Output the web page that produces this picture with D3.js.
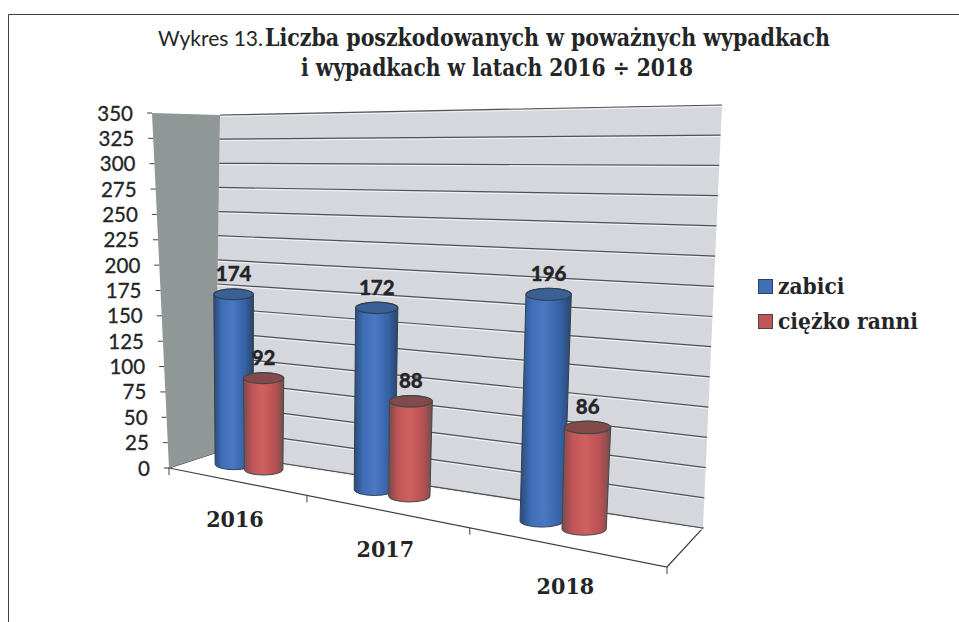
<!DOCTYPE html>
<html>
<head>
<meta charset="utf-8">
<script src="https://cdn.jsdelivr.net/npm/d3@7"></script>
<style>
  body { margin: 0; background: #fff; }
  svg { display: block; }
  .serif { font-family: "DejaVu Serif Condensed", "DejaVu Serif", serif; font-stretch: condensed; font-weight: bold; fill: #232526; }
  .sans { font-family: Lato, "Open Sans", sans-serif; fill: #232526; stroke: #232526; stroke-width: 0.3; }
</style>
</head>
<body>
<div id="chart"></div>
<script>
// Data
var categories = ["2016", "2017", "2018"];
var zabici = [174, 172, 196];
var ranni = [92, 88, 86];
var yTicks = [0, 25, 50, 75, 100, 125, 150, 175, 200, 225, 250, 275, 300, 325, 350];
var legendNames = ["zabici", "ciężko ranni"];

var width = 959;
var height = 622;

var svg = d3.select("#chart").append("svg")
    .attr("width", width)
    .attr("height", height);

// Box corners of the 3D plot on the page, [front/back][left/right][bottom/top]
var box = {
    flb: [169, 468], flt: [152, 113],
    frb: [667, 567], frt: [688, 100],
    blb: [215, 453], blt: [220, 115],
    brb: [703, 528], brt: [722, 105]
};
function mix(a, b, t) { return [a[0] + (b[0] - a[0]) * t, a[1] + (b[1] - a[1]) * t]; }
function project(u, v, t) {
    var bottom = mix(mix(box.flb, box.frb, u), mix(box.blb, box.brb, u), v);
    var top = mix(mix(box.flt, box.frt, u), mix(box.blt, box.brt, u), v);
    return mix(bottom, top, t);
}

// Scales
var yScale = d3.scaleLinear().domain([0, 350]).range([0, 1]);
var barScale = d3.scaleLinear().domain([0, 350]).range([0, 0.975]);
// category slots get wider toward the viewer's right
var uScale = d3.scaleLinear().domain([0, 1, 2, 3]).range([0, 0.277, 0.604, 1]);
var radius = d3.scaleLinear().domain([0, 1]).range([19.5, 24]);
var depth = d3.scaleLinear().domain([0, 1]).range([0.66, 0.48]);

var line = d3.line();
function poly(points) { return line(points) + "Z"; }

// Floor and walls
svg.append("path")
    .attr("d", poly([box.flb, box.frb, box.brb, box.blb]))
    .attr("fill", "#fff")
    .attr("stroke", "#3d4144")
    .attr("stroke-width", 1.2);
svg.append("path")
    .attr("d", poly([box.blb, box.brb, box.brt, box.blt]))
    .attr("fill", "#d6d7dd");
svg.append("path")
    .attr("d", poly([box.flb, box.blb, box.blt, box.flt]))
    .attr("fill", "#8f9797");

// Gridlines on the back wall
yTicks.forEach(function (d) {
    var t = yScale(d);
    svg.append("path")
        .attr("d", line([project(0, 1, t), project(1, 1, t)]))
        .attr("stroke", "#f4f4f6")
        .attr("stroke-width", 1)
        .attr("transform", "translate(0,1.4)");
    svg.append("path")
        .attr("d", line([project(0, 1, t), project(1, 1, t)]))
        .attr("stroke", "#4e5256")
        .attr("stroke-width", 1.2)
        .attr("fill", "none");
});

// Y axis, runs along the front edge of the left wall
yTicks.forEach(function (d) {
    var p = project(0, 0, yScale(d));
    svg.append("line")
        .attr("x1", p[0] - 5).attr("x2", p[0])
        .attr("y1", p[1]).attr("y2", p[1])
        .attr("stroke", "#3d4144");
    svg.append("text")
        .attr("class", "sans")
        .attr("x", p[0] - 19)
        .attr("y", p[1] + 7.5)
        .attr("text-anchor", "end")
        .attr("font-size", 20.5)
        .text(d);
});

// X axis ticks and labels
d3.range(categories.length + 1).forEach(function (i) {
    var p = project(uScale(i), 0, 0);
    svg.append("line")
        .attr("x1", p[0]).attr("x2", p[0])
        .attr("y1", p[1]).attr("y2", p[1] + 7)
        .attr("stroke", "#3d4144");
});
categories.forEach(function (c, i) {
    var p = project(uScale(i + 0.5), 0, 0);
    svg.append("text")
        .attr("class", "serif")
        .attr("x", p[0] - 3)
        .attr("y", p[1] + 45 + (i == 2 ? 2 : 0))
        .attr("text-anchor", "middle")
        .attr("font-size", 23)
        .text(c);
});

// Cylinder gradients
var series = [
    { values: zabici, offset: 0.26, id: "blue", stops: ["#2c4a78", "#3f6fb8", "#4a78c2", "#3560a4", "#2a4468"], cap: "#3a6096", edge: "#2f4250" },
    { values: ranni, offset: 0.48, id: "red", stops: ["#7d4a4a", "#c25557", "#d0605f", "#b65052", "#6f4f4f"], cap: "#84494a", edge: "#3f4a48" }
];
var defs = svg.append("defs");
series.forEach(function (s) {
    var g = defs.append("linearGradient").attr("id", s.id);
    s.stops.forEach(function (col, i) {
        g.append("stop").attr("offset", [0, 0.22, 0.48, 0.8, 1][i]).attr("stop-color", col);
    });
});

// Cylinders, back series first so the red one overlaps the blue
categories.forEach(function (c, i) {
    series.forEach(function (s) {
        var u = uScale(i + s.offset);
        var v = depth(u);
        var t = barScale(s.values[i]);
        var base = project(u, v, 0);
        var top = project(u, v, t);
        var r = radius(u);
        var rb = r * 0.96;
        var ry = r * 0.27;
        svg.append("path")
            .attr("d", "M" + (top[0] - r) + "," + top[1] +
                "L" + (base[0] - rb) + "," + base[1] +
                "A" + rb + "," + ry + " 0 0 0 " + (base[0] + rb) + "," + base[1] +
                "L" + (top[0] + r) + "," + top[1] +
                "A" + r + "," + ry + " 0 0 0 " + (top[0] - r) + "," + top[1] + "Z")
            .attr("fill", "url(#" + s.id + ")")
            .attr("stroke", s.edge)
            .attr("stroke-width", 1);
        svg.append("ellipse")
            .attr("cx", top[0]).attr("cy", top[1])
            .attr("rx", r).attr("ry", ry)
            .attr("fill", s.cap)
            .attr("stroke", s.edge)
            .attr("stroke-width", 1.2);
        svg.append("text")
            .attr("class", "sans")
            .attr("x", top[0])
            .attr("y", top[1] - 13)
            .attr("text-anchor", "middle")
            .attr("font-size", 20.5)
            .attr("font-weight", 900)
            .text(s.values[i]);
    });
});

// Title
var title = svg.append("text").attr("class", "serif").attr("font-size", 24);
title.append("tspan")
    .attr("x", 158).attr("y", 46)
    .style("font-family", "Lato, sans-serif")
    .style("font-weight", "normal")
    .attr("font-size", 21)
    .text("Wykres 13. ");
title.append("tspan")
    .attr("x", 265).attr("y", 46)
    .attr("textLength", 565)
    .attr("lengthAdjust", "spacingAndGlyphs")
    .text("Liczba poszkodowanych w poważnych wypadkach");
svg.append("text")
    .attr("class", "serif")
    .attr("x", 301).attr("y", 76)
    .attr("font-size", 24)
    .attr("textLength", 392)
    .attr("lengthAdjust", "spacingAndGlyphs")
    .text("i wypadkach w latach 2016 ÷ 2018");

// Legend
legendNames.forEach(function (name, i) {
    var y = 294 + i * 35;
    svg.append("rect")
        .attr("x", 758.5).attr("y", y - 14.5)
        .attr("width", 14).attr("height", 14)
        .attr("fill", series[i].stops[1])
        .attr("stroke", series[i].edge);
    svg.append("text")
        .attr("class", "serif")
        .attr("x", 778).attr("y", y)
        .attr("font-size", 22.5)
        .text(name);
});

// Page frame left from the scan
svg.append("path")
    .attr("d", "M8.5,622V14.5H959")
    .attr("fill", "none")
    .attr("stroke", "#3c4042")
    .attr("stroke-width", 1);
</script>
</body>
</html>
